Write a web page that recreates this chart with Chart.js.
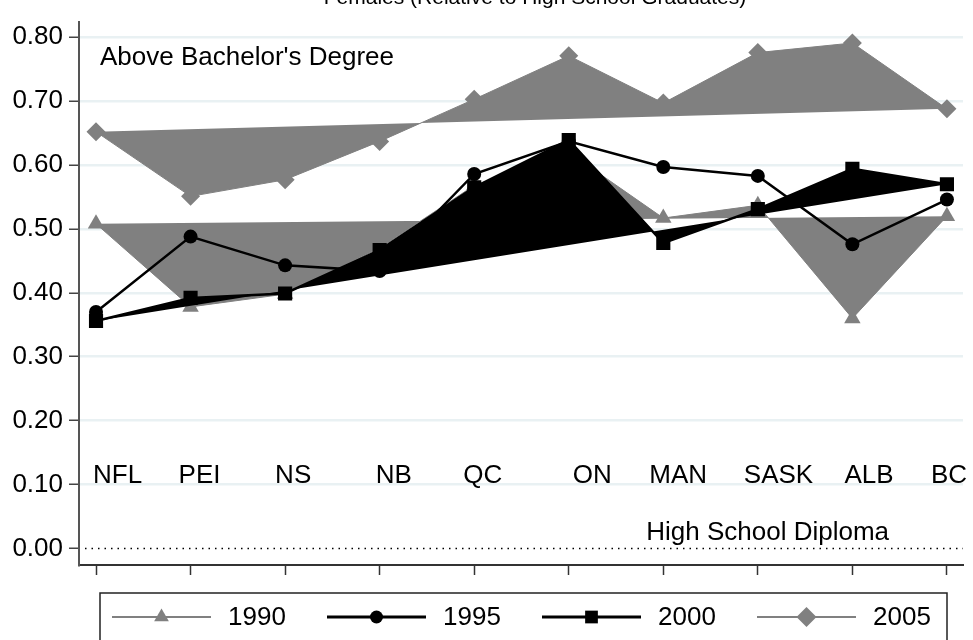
<!DOCTYPE html>
<html>
<head>
<meta charset="utf-8">
<script src="https://cdn.jsdelivr.net/npm/chart.js@4.4.0/dist/chart.umd.min.js"></script>
<style>
  html, body { margin: 0; padding: 0; background: #fff; }
  #wrap { width: 973px; height: 640px; position: relative; }
</style>
</head>
<body>
<div id="wrap"><canvas id="chart"></canvas></div>
<script>
// Data
const provinces = ['NFL', 'PEI', 'NS', 'NB', 'QC', 'ON', 'MAN', 'SASK', 'ALB', 'BC'];
const years = ['1990', '1995', '2000', '2005'];

const ratio1990 = [0.508, 0.378, 0.398, 0.470, 0.568, 0.620, 0.517, 0.537, 0.360, 0.520];
const ratio1995 = [0.370, 0.488, 0.443, 0.434, 0.586, 0.637, 0.597, 0.583, 0.476, 0.546];
const ratio2000 = [0.356, 0.392, 0.399, 0.467, 0.565, 0.639, 0.478, 0.531, 0.594, 0.570];
const ratio2005 = [0.652, 0.551, 0.577, 0.637, 0.703, 0.771, 0.697, 0.776, 0.791, 0.688];

const yTicks = [0, 0.1, 0.2, 0.3, 0.4, 0.5, 0.6, 0.7, 0.8];

const titleText = 'Females (Relative to High School Graduates)';
const topNote = "Above Bachelor's Degree";
const bottomNote = 'High School Diploma';

// Layout: province labels sit a little off their ticks (px)
const labelNudge = [-3, -12, -10, -4, -11, 4, -14, -14, -8, -16];

const GRAY = '#808080';
const BLACK = '#000000';
const FONT = "'Liberation Sans', Arial, Helvetica, sans-serif";

Chart.defaults.font.family = FONT;
Chart.defaults.font.size = 26;
Chart.defaults.color = '#000';

function toPoints(values) {
    return values.map((v, i) => ({ x: i, y: v }));
}

function drawMarker(ctx, style, x, y, r, color) {
    ctx.save();
    ctx.fillStyle = color;
    ctx.beginPath();
    if (style === 'triangle') {
        ctx.moveTo(x, y - r);
        ctx.lineTo(x + r * 0.866, y + r * 0.5);
        ctx.lineTo(x - r * 0.866, y + r * 0.5);
        ctx.closePath();
    } else if (style === 'circle') {
        ctx.arc(x, y, r, 0, Math.PI * 2);
    } else if (style === 'rect') {
        const s = r * Math.SQRT2;
        ctx.rect(x - s / 2, y - s / 2, s, s);
    } else {
        ctx.moveTo(x - r, y);
        ctx.lineTo(x, y - r);
        ctx.lineTo(x + r, y);
        ctx.lineTo(x, y + r);
        ctx.closePath();
    }
    ctx.fill();
    ctx.restore();
}

// Dotted zero line under the data
const zeroLine = {
    id: 'zeroLine',
    beforeDatasetsDraw(chart) {
        const { ctx, chartArea, scales } = chart;
        const y = scales.y.getPixelForValue(0);
        ctx.save();
        ctx.strokeStyle = '#000';
        ctx.lineWidth = 1.5;
        ctx.setLineDash([1.5, 5]);
        ctx.beginPath();
        ctx.moveTo(chartArea.left + 6, y);
        ctx.lineTo(chartArea.right, y);
        ctx.stroke();
        ctx.restore();
    }
};

// Texts, province labels and legend
const annotations = {
    id: 'annotations',
    afterDraw(chart) {
        const { ctx, chartArea, scales } = chart;
        ctx.save();
        ctx.fillStyle = '#000';
        ctx.textBaseline = 'alphabetic';

        // title, mostly cut by the top edge
        ctx.font = '21px ' + FONT;
        ctx.textAlign = 'center';
        ctx.fillText(titleText, 535, 4);

        ctx.font = '26px ' + FONT;
        ctx.textAlign = 'left';
        ctx.fillText(topNote, chartArea.left + 21, chartArea.top + 43);
        ctx.fillText(bottomNote, scales.x.getPixelForValue(5.82), scales.y.getPixelForValue(0) - 8);

        const labelY = scales.y.getPixelForValue(0.1) - 1;
        provinces.forEach((p, i) => {
            ctx.fillText(p, scales.x.getPixelForValue(i) + labelNudge[i], labelY);
        });

        // legend box
        ctx.strokeStyle = '#222';
        ctx.lineWidth = 1.5;
        ctx.strokeRect(100, 593, 847, 70);

        const items = [
            { label: years[0], color: GRAY, width: 2, style: 'triangle', r: 8.5 },
            { label: years[1], color: BLACK, width: 3, style: 'circle', r: 6.5 },
            { label: years[2], color: BLACK, width: 3, style: 'rect', r: 9 },
            { label: years[3], color: GRAY, width: 2, style: 'rectRot', r: 10 }
        ];
        const ly = 617;
        items.forEach((item, k) => {
            const x0 = 112 + k * 215;
            ctx.strokeStyle = item.color;
            ctx.lineWidth = item.width;
            ctx.beginPath();
            ctx.moveTo(x0, ly);
            ctx.lineTo(x0 + 99, ly);
            ctx.stroke();
            drawMarker(ctx, item.style, x0 + 49.5, ly, item.r, item.color);
            ctx.fillStyle = '#000';
            ctx.textBaseline = 'middle';
            ctx.fillText(item.label, x0 + 116, ly + 1);
        });
        ctx.restore();
    }
};

const ctx = document.getElementById('chart').getContext('2d');
new Chart(ctx, {
    type: 'line',
    data: {
        datasets: [
            {
                label: years[1],
                data: toPoints(ratio1995),
                borderColor: BLACK,
                borderWidth: 2.5,
                pointStyle: 'circle',
                pointRadius: 7,
                pointBackgroundColor: BLACK,
                pointBorderWidth: 0,
                fill: false,
                order: 0
            },
            {
                label: years[2],
                data: toPoints(ratio2000),
                borderColor: BLACK,
                backgroundColor: BLACK,
                borderWidth: 2.5,
                pointStyle: 'rect',
                pointRadius: 10,
                pointBackgroundColor: BLACK,
                pointBorderWidth: 0,
                fill: 'shape',
                order: 1
            },
            {
                label: years[0],
                data: toPoints(ratio1990),
                borderColor: GRAY,
                backgroundColor: GRAY,
                borderWidth: 1,
                pointStyle: 'triangle',
                pointRadius: 9.5,
                pointBackgroundColor: GRAY,
                pointBorderWidth: 0,
                fill: 'shape',
                order: 2
            },
            {
                label: years[3],
                data: toPoints(ratio2005),
                borderColor: GRAY,
                backgroundColor: GRAY,
                borderWidth: 1,
                pointStyle: 'rectRot',
                pointRadius: 9.5,
                pointBackgroundColor: GRAY,
                pointBorderWidth: 0,
                fill: 'shape',
                order: 3
            }
        ]
    },
    options: {
        responsive: true,
        maintainAspectRatio: false,
        animation: false,
        events: [],
        layout: { padding: { top: 10, right: 6, left: 0, bottom: 0 } },
        plugins: {
            legend: { display: false },
            tooltip: { enabled: false },
            title: { display: false }
        },
        elements: { line: { tension: 0 } },
        scales: {
            x: {
                type: 'linear',
                min: -0.18,
                max: 9.17,
                afterBuildTicks: scale => {
                    scale.ticks = provinces.map((p, i) => ({ value: i }));
                },
                afterFit: scale => { scale.height = 75; },
                ticks: { autoSkip: false, callback: () => '' },
                grid: {
                    drawOnChartArea: false,
                    drawTicks: true,
                    tickLength: 10,
                    tickColor: '#333',
                    tickWidth: 1.5
                },
                border: { display: true, color: '#333', width: 2 }
            },
            y: {
                min: -0.026,
                max: 0.8245,
                afterBuildTicks: scale => {
                    scale.ticks = yTicks.map(v => ({ value: v }));
                },
                afterFit: scale => { scale.width = 79; },
                ticks: {
                    padding: 6,
                    callback: v => v.toFixed(2)
                },
                grid: {
                    color: c => (c.tick && c.tick.value === 0 ? 'rgba(0,0,0,0)' : '#e9f1f3'),
                    lineWidth: 2.5,
                    drawTicks: true,
                    tickLength: 10,
                    tickColor: '#444',
                    tickWidth: 1.5
                },
                border: { display: true, color: '#555', width: 2 }
            }
        }
    },
    plugins: [zeroLine, annotations]
});
</script>
</body>
</html>
